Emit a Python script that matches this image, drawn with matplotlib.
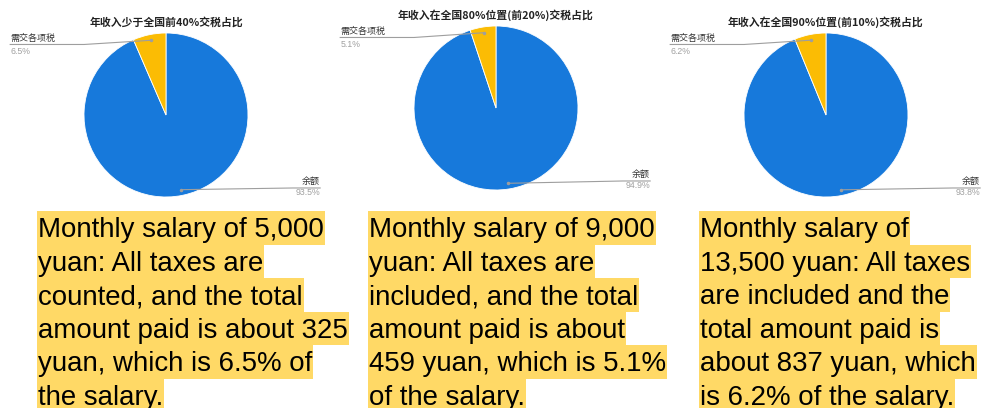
import numpy as np
import matplotlib
matplotlib.use('Agg')
import matplotlib.pyplot as plt
from matplotlib.patches import Rectangle

plt.rcParams['font.family'] = ['Noto Sans CJK SC', 'DejaVu Sans']

# data
titles = ['年收入少于全国前40%交税占比',
          '年收入在全国80%位置(前20%)交税占比',
          '年收入在全国90%位置(前10%)交税占比']
slice_names = ['余额', '需交各项税']
remainder = [93.5, 94.9, 93.8]
tax = [6.5, 5.1, 6.2]

captions = [
    ['Monthly salary of 5,000', 'yuan: All taxes are', 'counted, and the total',
     'amount paid is about 325', 'yuan, which is 6.5% of', 'the salary.'],
    ['Monthly salary of 9,000', 'yuan: All taxes are', 'included, and the total',
     'amount paid is about', '459 yuan, which is 5.1%', 'of the salary.'],
    ['Monthly salary of', '13,500 yuan: All taxes', 'are included and the',
     'total amount paid is', 'about 837 yuan, which', 'is 6.2% of the salary.'],
]

blue = '#1779db'
yellow = '#fbbc04'
hl = '#ffd966'

W, H = 981, 408
fig = plt.figure(figsize=(W / 100, H / 100), dpi=100)

centers = [(166, 115), (496, 108), (826, 115)]
title_y = [22, 15, 22]
R = 82
text_left = [38, 369, 700]


def fx(px):
    return px / W


def fy(py):
    return 1 - py / H


for i in range(3):
    cx, cy = centers[i]
    ax = fig.add_axes([fx(cx - R), fy(cy + R), 2 * R / W, 2 * R / H])
    vals = [remainder[i], tax[i]]
    wedges, _ = ax.pie(vals, colors=[blue, yellow], startangle=90, counterclock=False,
                       wedgeprops=dict(linewidth=0.6, edgecolor='white'))
    ax.set_xlim(-1, 1)
    ax.set_ylim(-1, 1)
    ax.set_axis_off()

    fig.text(fx(cx), fy(title_y[i]), titles[i], ha='center', va='center',
             fontsize=7.8, fontweight='bold', color='#222222')

    # leader lines from the middle of each slice
    for w, name, v in zip(wedges, slice_names, vals):
        mid = np.deg2rad((w.theta1 + w.theta2) / 2)
        dx, dy = 0.93 * np.cos(mid), 0.93 * np.sin(mid)
        if dx < 0:
            ly = 0.86
            xs = [dx, -1.0, -1.90]
            ys = [dy, ly, ly]
            tx, ha = -1.90, 'left'
            ny, py = 0.93, 0.77
        else:
            ly = -0.89
            xs = [dx, 1.55, 1.88]
            ys = [dy, ly, ly]
            tx, ha = 1.88, 'right'
            ny, py = -0.81, -0.95
        ax.plot(xs, ys, color='#9e9e9e', lw=0.8, clip_on=False)
        ax.plot([dx], [dy], 'o', color='#9e9e9e', ms=1.5, clip_on=False)
        ax.text(tx, ny, name, ha=ha, va='center', fontsize=6.5, color='#333333')
        ax.text(tx, py, f'{v}%', ha=ha, va='center', fontsize=6.3, color='#a0a0a0',
                family=['Liberation Sans'])

# captions with per-line highlight
line_h = 33.5
top0 = 211
fig.canvas.draw()
renderer = fig.canvas.get_renderer()
for i in range(3):
    for k, line in enumerate(captions[i]):
        top = top0 + k * line_h
        t = fig.text(fx(text_left[i]), fy(top + 26.2), line, ha='left', va='baseline',
                     fontsize=19.9, family=['Liberation Sans'], color='black', zorder=3)
        ext = t.get_window_extent(renderer)
        fig.patches.append(Rectangle((fx(text_left[i] - 1), fy(top + line_h)),
                                     (ext.width + 2) / W, line_h / H,
                                     transform=fig.transFigure, facecolor=hl,
                                     edgecolor='none', zorder=1))

fig.savefig('out.png', dpi=100)
